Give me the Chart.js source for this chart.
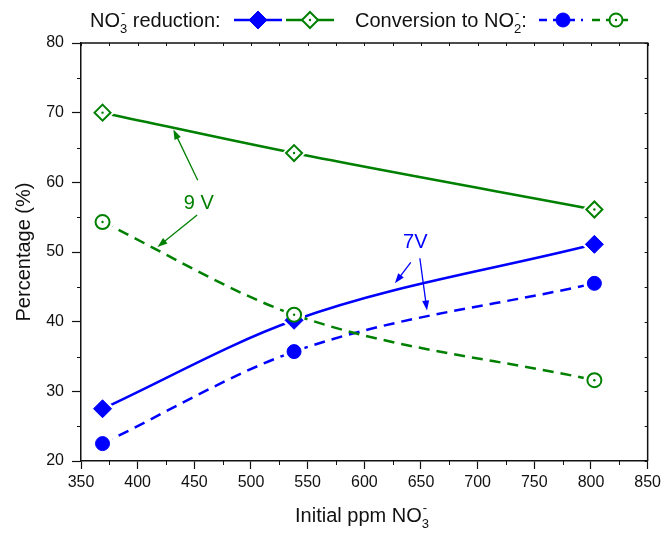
<!DOCTYPE html>
<html>
<head>
<meta charset="utf-8">
<script src="https://cdn.jsdelivr.net/npm/chart.js@4"></script>
<style>
  body { margin: 0; background: #fff; }
  canvas { display: block; }
</style>
</head>
<body>
<canvas id="myChart" width="665" height="533"></canvas>
<script>
// data
const initialPpm = [369, 538, 803];
const reduction7V = [27.5, 40.2, 51.1];
const reduction9V = [70.0, 64.2, 56.1];
const conversion7V = [22.5, 35.7, 45.5];
const conversion9V = [54.3, 41.0, 31.6];

const xTicks = [350, 400, 450, 500, 550, 600, 650, 700, 750, 800, 850];
const yTicks = [20, 30, 40, 50, 60, 70, 80];

const FONT = '"Liberation Sans", Arial, sans-serif';
const INK = '#111';
const BLUE = '#0000ff';
const GREEN = '#008000';

const pts = arr => arr.map((v, i) => ({x: initialPpm[i], y: v}));

// line + white halo round every marker (lines stop short of markers)
function lineSet(arr, color, dashed, style, r) {
    return {
        data: pts(arr), borderColor: color, borderWidth: 2.5,
        borderDash: dashed ? [11, 7] : [], cubicInterpolationMode: 'monotone',
        pointStyle: style, pointRadius: r + 4, pointBackgroundColor: '#fff',
        pointBorderWidth: 0, order: 1
    };
}
function markerSet(arr, color, style, r, hollow) {
    return {
        data: pts(arr), showLine: false, pointStyle: style, pointRadius: r,
        pointBackgroundColor: hollow ? '#fff' : color, pointBorderColor: color,
        pointBorderWidth: hollow ? 2 : 1, order: 0, dot: hollow
    };
}

function drawRich(ctx, segs, x, y, size, color, align) {
    const big = size + 'px ' + FONT, small = Math.round(size * 0.65) + 'px ' + FONT;
    let w = 0;
    const parts = segs.map(s => {
        let pw;
        if (typeof s === 'string') { ctx.font = big; pw = ctx.measureText(s).width; }
        else { ctx.font = small; pw = Math.max(ctx.measureText(s.sub || '').width, ctx.measureText(s.sup || '').width); }
        w += pw;
        return {s, pw};
    });
    let cx = align === 'center' ? x - w / 2 : x;
    ctx.fillStyle = color; ctx.textAlign = 'left'; ctx.textBaseline = 'alphabetic';
    parts.forEach(p => {
        if (typeof p.s === 'string') { ctx.font = big; ctx.fillText(p.s, cx, y); }
        else {
            ctx.font = small;
            if (p.s.sub) ctx.fillText(p.s.sub, cx, y + size * 0.3);
            if (p.s.sup) ctx.fillText(p.s.sup, cx + 1, y - size * 0.5);
        }
        cx += p.pw;
    });
    return cx;
}

function diamond(ctx, x, y, r, color, hollow) {
    ctx.beginPath();
    ctx.moveTo(x, y - r); ctx.lineTo(x + r, y); ctx.lineTo(x, y + r); ctx.lineTo(x - r, y); ctx.closePath();
    ctx.fillStyle = hollow ? '#fff' : color; ctx.fill();
    ctx.strokeStyle = color; ctx.lineWidth = hollow ? 2 : 1; ctx.stroke();
    if (hollow) { ctx.beginPath(); ctx.arc(x, y, 1.2, 0, Math.PI * 2); ctx.fillStyle = color; ctx.fill(); }
}
function circle(ctx, x, y, r, color, hollow) {
    ctx.beginPath(); ctx.arc(x, y, r, 0, Math.PI * 2);
    ctx.fillStyle = hollow ? '#fff' : color; ctx.fill();
    ctx.strokeStyle = color; ctx.lineWidth = hollow ? 2 : 1; ctx.stroke();
    if (hollow) { ctx.beginPath(); ctx.arc(x, y, 1.2, 0, Math.PI * 2); ctx.fillStyle = color; ctx.fill(); }
}
function legendLine(ctx, x1, x2, y, color, dashed) {
    ctx.save();
    ctx.strokeStyle = color; ctx.lineWidth = 2.5; ctx.setLineDash(dashed ? [8, 6] : []);
    ctx.beginPath(); ctx.moveTo(x1, y); ctx.lineTo(x2, y); ctx.stroke();
    ctx.restore();
}

// annotation arrows, in data units
const notes = [
    {text: '9 V', color: GREEN, at: [454, 57.0], arrows: [[[453, 60.3], [431.5, 67.6]], [[452.5, 55.3], [417.5, 50.7]]]},
    {text: '7V', color: BLUE, at: [645, 51.3], arrows: [[[641, 48.5], [627, 45.5]], [[649, 49.1], [655.3, 41.6]]]}
];

function arrow(ctx, x1, y1, x2, y2, color) {
    const a = Math.atan2(y2 - y1, x2 - x1), L = 10, W = 3.5;
    ctx.strokeStyle = color; ctx.fillStyle = color; ctx.lineWidth = 1.3;
    ctx.beginPath(); ctx.moveTo(x1, y1); ctx.lineTo(x2 - L * 0.8 * Math.cos(a), y2 - L * 0.8 * Math.sin(a)); ctx.stroke();
    ctx.beginPath();
    ctx.moveTo(x2, y2);
    ctx.lineTo(x2 - L * Math.cos(a) + W * Math.sin(a), y2 - L * Math.sin(a) - W * Math.cos(a));
    ctx.lineTo(x2 - L * Math.cos(a) - W * Math.sin(a), y2 - L * Math.sin(a) + W * Math.cos(a));
    ctx.closePath(); ctx.fill();
}

const decor = {
    id: 'decor',
    afterDatasetsDraw(chart) {
        const ctx = chart.ctx;
        chart.data.datasets.forEach((ds, i) => {
            if (!ds.dot) return;
            chart.getDatasetMeta(i).data.forEach(p => {
                ctx.beginPath(); ctx.arc(p.x, p.y, 1.2, 0, Math.PI * 2);
                ctx.fillStyle = ds.pointBorderColor; ctx.fill();
            });
        });
    },
    afterDraw(chart) {
        const ctx = chart.ctx, a = chart.chartArea;
        const sx = chart.scales.x, sy = chart.scales.y;
        ctx.save();
        // frame top/right
        ctx.strokeStyle = INK; ctx.lineWidth = 1.5;
        ctx.beginPath(); ctx.moveTo(a.left, a.top); ctx.lineTo(a.right, a.top); ctx.lineTo(a.right, a.bottom); ctx.stroke();
        ctx.lineWidth = 1;
        // minor ticks + mirrored inner ticks
        for (let v = xTicks[0]; v <= xTicks[xTicks.length - 1]; v += 25) {
            const px = Math.round(sx.getPixelForValue(v)) + 0.5;
            ctx.beginPath(); ctx.moveTo(px, a.top); ctx.lineTo(px, a.top + 3); ctx.stroke();
            if (v % 50) { ctx.beginPath(); ctx.moveTo(px, a.bottom); ctx.lineTo(px, a.bottom + 4); ctx.stroke(); }
        }
        for (let v = yTicks[0]; v <= yTicks[yTicks.length - 1]; v += 5) {
            const py = Math.round(sy.getPixelForValue(v)) + 0.5;
            ctx.beginPath(); ctx.moveTo(a.right, py); ctx.lineTo(a.right - 3, py); ctx.stroke();
            if (v % 10) { ctx.beginPath(); ctx.moveTo(a.left, py); ctx.lineTo(a.left - 4, py); ctx.stroke(); }
        }
        // axis titles
        drawRich(ctx, ['Initial ppm NO', {sub: '3', sup: '-'}], 362, 522, 20, INK, 'center');
        ctx.save();
        ctx.translate(24, 252); ctx.rotate(-Math.PI / 2);
        ctx.font = '20px ' + FONT; ctx.fillStyle = INK; ctx.textAlign = 'center'; ctx.textBaseline = 'middle';
        ctx.fillText('Percentage (%)', 0, 0);
        ctx.restore();
        // legend
        const ly = 20;
        drawRich(ctx, ['NO', {sub: '3', sup: '-'}, ' reduction:'], 90, 27, 20, INK, 'left');
        legendLine(ctx, 234, 282, ly, BLUE, false); diamond(ctx, 258, ly, 9, BLUE, false);
        legendLine(ctx, 286, 334, ly, GREEN, false); diamond(ctx, 310, ly, 8, GREEN, true);
        drawRich(ctx, ['Conversion to NO', {sub: '2', sup: '-'}, ':'], 355, 27, 20, INK, 'left');
        legendLine(ctx, 539, 583, ly, BLUE, true); circle(ctx, 563, ly, 7, BLUE, false);
        legendLine(ctx, 592, 633, ly, GREEN, true); circle(ctx, 616, ly, 6.5, GREEN, true);
        // annotations
        notes.forEach(n => {
            ctx.font = '20px ' + FONT; ctx.fillStyle = n.color; ctx.textAlign = 'center'; ctx.textBaseline = 'middle';
            ctx.fillText(n.text, sx.getPixelForValue(n.at[0]), sy.getPixelForValue(n.at[1]));
            n.arrows.forEach(([p, q]) => arrow(ctx, sx.getPixelForValue(p[0]), sy.getPixelForValue(p[1]),
                sx.getPixelForValue(q[0]), sy.getPixelForValue(q[1]), n.color));
        });
        ctx.restore();
    }
};

const ctx = document.getElementById('myChart').getContext('2d');
const chart = new Chart(ctx, {
    type: 'line',
    data: {
        datasets: [
            lineSet(reduction9V, GREEN, false, 'rectRot', 8),
            lineSet(conversion9V, GREEN, true, 'circle', 7),
            lineSet(reduction7V, BLUE, false, 'rectRot', 9),
            lineSet(conversion7V, BLUE, true, 'circle', 7),
            markerSet(reduction9V, GREEN, 'rectRot', 8, true),
            markerSet(conversion9V, GREEN, 'circle', 7, true),
            markerSet(reduction7V, BLUE, 'rectRot', 9, false),
            markerSet(conversion7V, BLUE, 'circle', 7, false)
        ]
    },
    options: {
        responsive: false,
        animation: false,
        devicePixelRatio: 1,
        layout: {padding: {top: 43, right: 14, left: 0, bottom: 0}},
        plugins: {legend: {display: false}, tooltip: {enabled: false}},
        scales: {
            x: {
                type: 'linear', min: xTicks[0], max: xTicks[xTicks.length - 1],
                afterBuildTicks: s => { s.ticks = xTicks.map(v => ({value: v})); },
                afterFit: s => { s.height = 72; },
                ticks: {font: {size: 16, family: FONT}, color: INK, padding: 4, maxRotation: 0, autoSkip: false},
                grid: {drawOnChartArea: false, tickLength: 8, tickColor: INK, tickWidth: 1.2},
                border: {display: true, color: INK, width: 1.5}
            },
            y: {
                min: yTicks[0], max: yTicks[yTicks.length - 1],
                afterBuildTicks: s => { s.ticks = yTicks.map(v => ({value: v})); },
                afterFit: s => { s.width = 81; },
                ticks: {font: {size: 16, family: FONT}, color: INK, padding: 8},
                grid: {drawOnChartArea: false, tickLength: 9, tickColor: INK, tickWidth: 1.2},
                border: {display: true, color: INK, width: 1.5}
            }
        }
    },
    plugins: [decor]
});
</script>
</body>
</html>
